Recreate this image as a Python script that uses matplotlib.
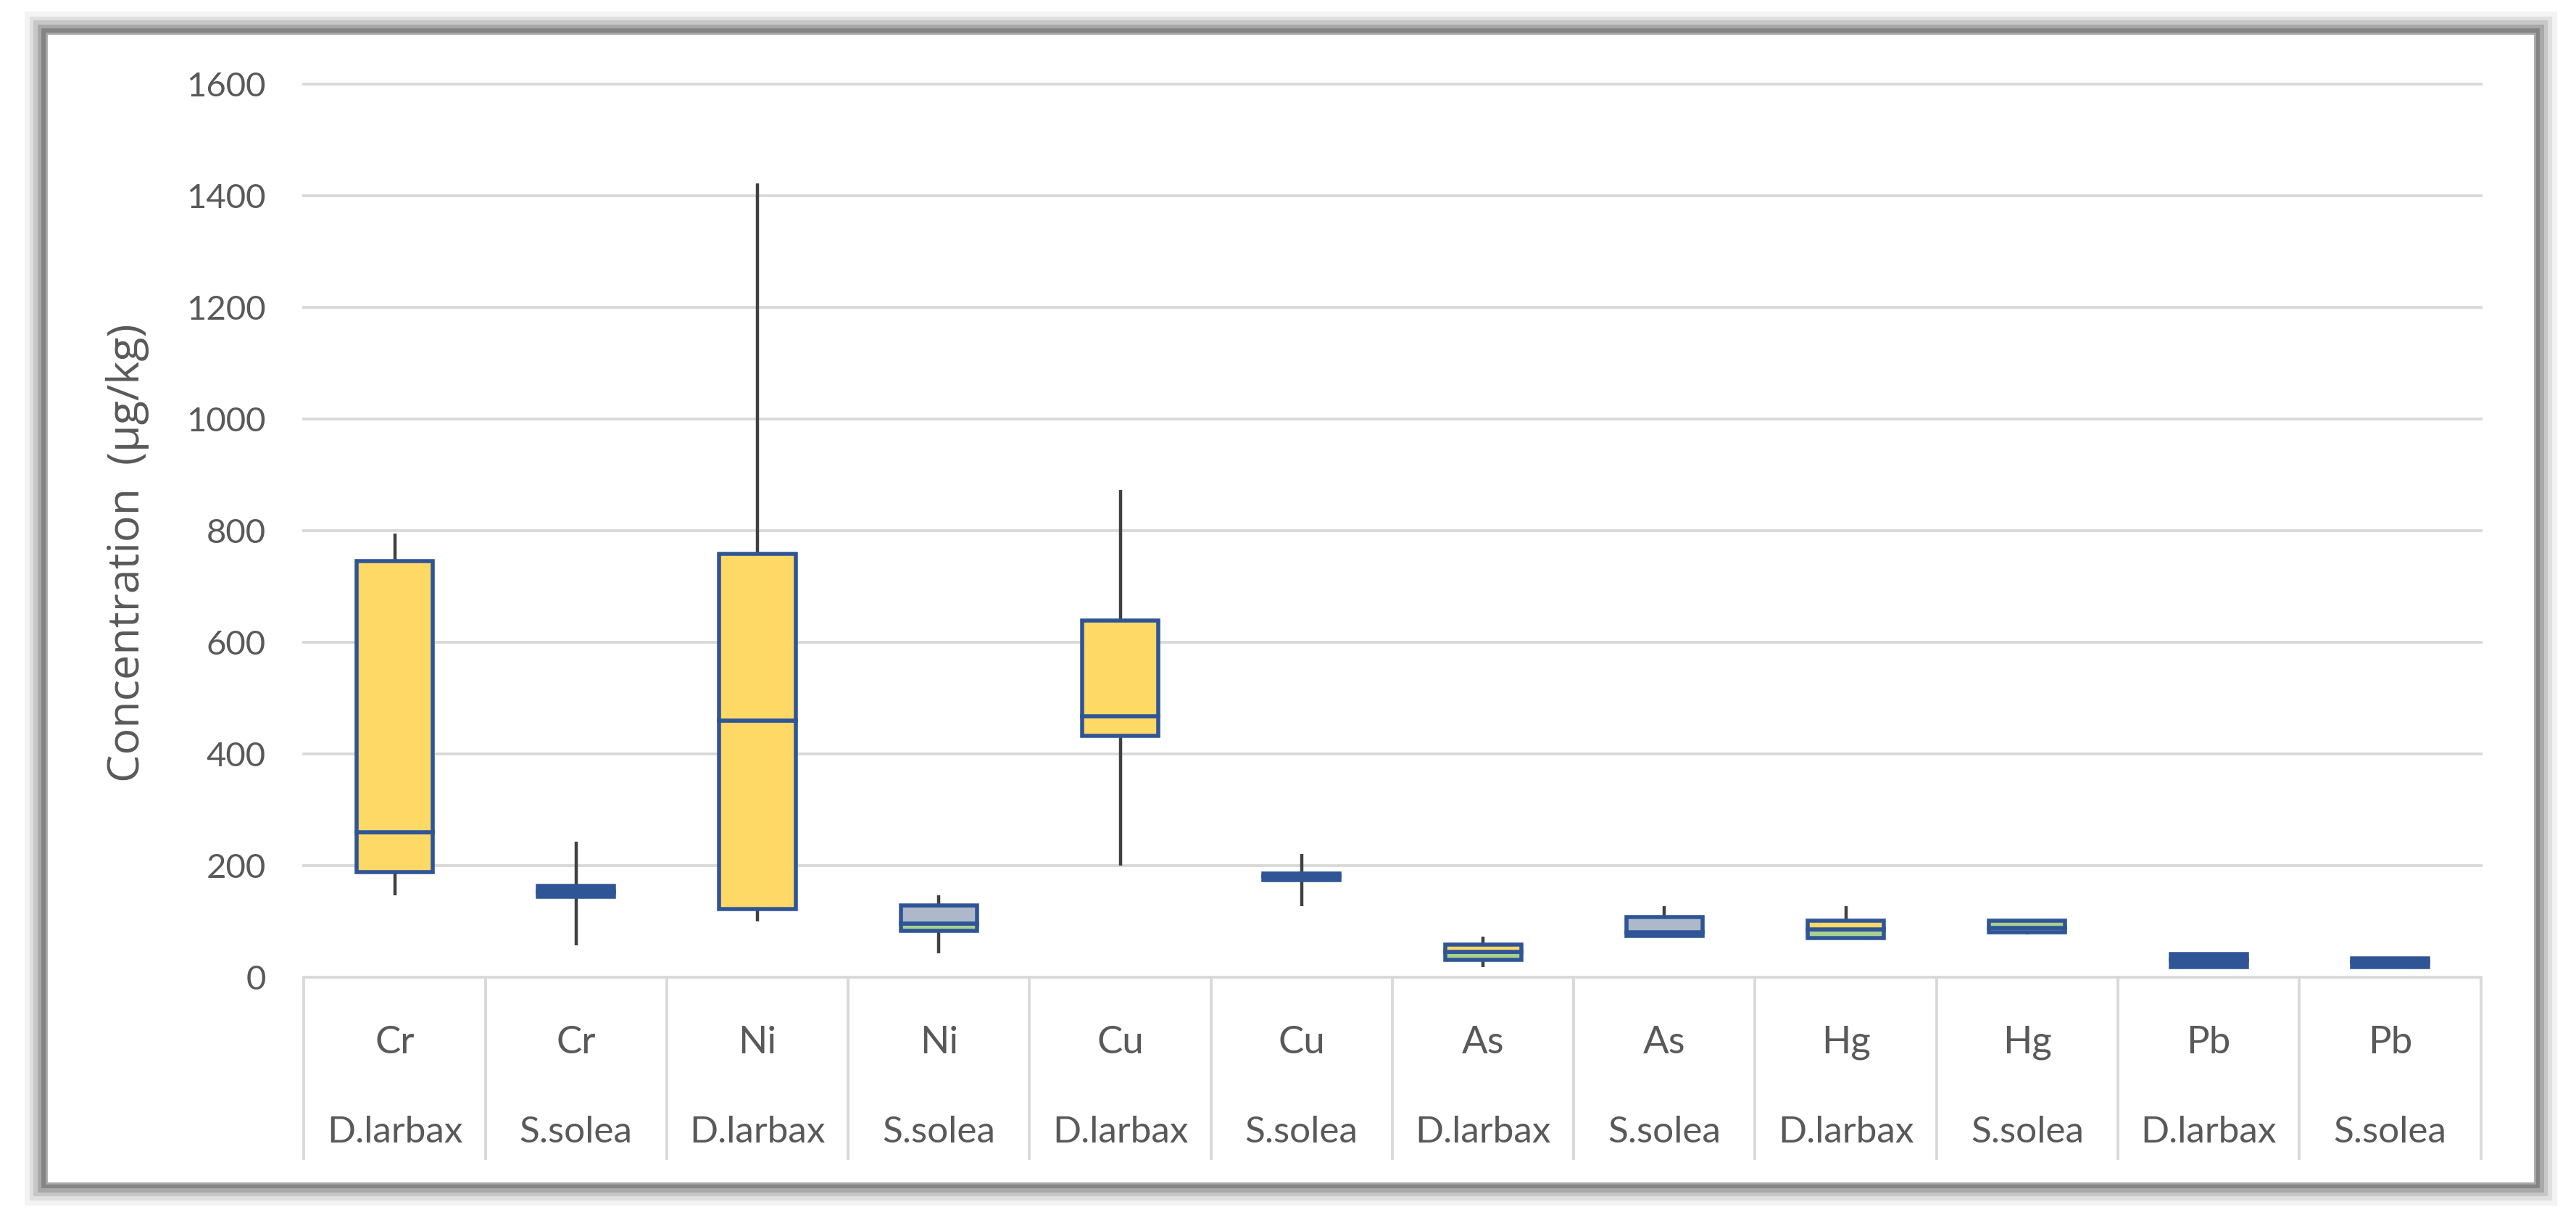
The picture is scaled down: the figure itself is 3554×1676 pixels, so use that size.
import matplotlib
matplotlib.use("Agg")
import matplotlib.pyplot as plt
from matplotlib.patches import Rectangle

# ---- data ----
metals = ['Cr', 'Cr', 'Ni', 'Ni', 'Cu', 'Cu', 'As', 'As', 'Hg', 'Hg', 'Pb', 'Pb']
species = ['D.larbax', 'S.solea'] * 6
whisker_low = [146, 57, 100, 42, 199, 127, 18, 73, 69, 76, 18, 18]
q1 = [188, 143, 122, 83, 432, 174, 30, 74, 70, 80, 18, 18]
median = [259, 153, 459, 96, 467, 180, 45, 80, 85, 88, 30, 27]
q3 = [745, 163, 758, 128, 638, 185, 58, 107, 101, 101, 41, 33]
whisker_high = [794, 242, 1422, 146, 872, 220, 72, 126, 126, 103, 41, 33]
y_ticks = [0, 200, 400, 600, 800, 1000, 1200, 1400, 1600]

# ---- styles ----
YEL = '#FFD966'
GRY = '#ADB9CA'
GRN = '#A9D18E'
BLU = '#2F5597'
upper_fill = [YEL, BLU, YEL, GRY, YEL, BLU, YEL, GRY, YEL, GRN, BLU, BLU]
lower_fill = [YEL, BLU, YEL, GRN, YEL, BLU, GRN, GRY, GRN, GRY, BLU, BLU]
TXT = '#595959'
GRID = '#D9D9D9'

fig = plt.figure(figsize=(17.77, 8.38), dpi=200)

# frame with soft shadow
x0, y0, x1, y1 = 0.018, 0.026, 0.984, 0.9726
for lw, a in [(22, 0.07), (17, 0.12), (13, 0.18), (9, 0.28), (5, 0.45)]:
    fig.patches.append(Rectangle((x0, y0), x1 - x0, y1 - y0, transform=fig.transFigure,
                                 fill=False, edgecolor='#5A5A5A', linewidth=lw, alpha=a,
                                 zorder=-10))
fig.patches.append(Rectangle((x0, y0), x1 - x0, y1 - y0, transform=fig.transFigure,
                             facecolor='white', edgecolor='#A8A8A8', linewidth=1.0,
                             zorder=-9))

ax = fig.add_axes([0.118, 0.196, 0.963 - 0.118, 0.931 - 0.196])
ax.set_facecolor('none')

n = len(metals)
xs = list(range(n))
w = 0.42

ax.vlines(xs, q3, whisker_high, color='#404040', linewidth=1.6, zorder=2)
ax.vlines(xs, whisker_low, q1, color='#404040', linewidth=1.6, zorder=2)

lower_h = [m - a for m, a in zip(median, q1)]
upper_h = [b - m for b, m in zip(q3, median)]
ax.bar(xs, lower_h, bottom=q1, width=w, color=lower_fill, edgecolor=BLU,
       linewidth=2.0, zorder=3)
ax.bar(xs, upper_h, bottom=median, width=w, color=upper_fill, edgecolor=BLU,
       linewidth=2.0, zorder=3)

ax.set_xlim(-0.5, n - 0.5)
ax.set_ylim(0, 1600)
ax.set_yticks(y_ticks)
ax.set_yticklabels([str(t) for t in y_ticks], fontfamily='Lato', fontsize=17, color=TXT)
ax.tick_params(axis='y', length=0, pad=19)
ax.set_xticks([])
for s in ax.spines.values():
    s.set_visible(False)
ax.grid(axis='y', color=GRID, linewidth=1.4, zorder=0)
ax.set_axisbelow(True)
for gl in ax.get_ygridlines():
    gl.set_clip_on(False)

ax.set_ylabel('Concentration  (µg/kg)', fontfamily='Open Sans', fontsize=22, color=TXT)
ax.yaxis.set_label_coords(-0.071, 0.475)

tr = ax.get_xaxis_transform()
for i in range(n + 1):
    ax.plot([i - 0.5, i - 0.5], [0, -0.203], transform=tr, color=GRID,
            linewidth=1.4, clip_on=False, zorder=1)
for i in range(n):
    ax.text(i, -0.0735, metals[i], transform=tr, ha='center', va='center',
            fontfamily='Lato', fontsize=19, color=TXT)
    ax.text(i, -0.174, species[i], transform=tr, ha='center', va='center',
            fontfamily='Lato', fontsize=18.5, color=TXT)

fig.savefig('out.png', dpi=200)
